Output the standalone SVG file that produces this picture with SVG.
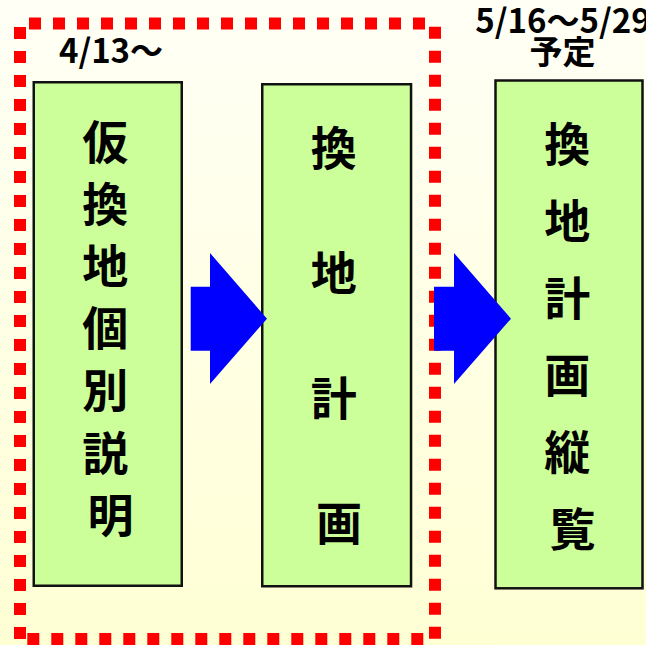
<svg xmlns="http://www.w3.org/2000/svg" width="646" height="645" viewBox="0 0 646 645">
  <style>
    .box { fill: #CCFF99; stroke: #111111; stroke-width: 2.5; }
    .kanji { font-family: "Noto Sans CJK JP", "Noto Sans CJK SC", sans-serif; font-weight: bold; font-size: 46px; fill: #000000; text-anchor: middle; }
    .label { font-family: "Noto Sans CJK JP", "Noto Sans CJK SC", sans-serif; font-weight: bold; font-size: 33px; fill: #000000; text-anchor: middle; }
    .dots { stroke: #FF0000; stroke-width: 12; stroke-dasharray: 12 12; fill: none; }
    .arrow { fill: #0000FF; stroke: none; }
  </style>
  <defs>
    <linearGradient id="bg" x1="0" y1="0" x2="0" y2="1">
      <stop offset="0" stop-color="#FFFFF6"/>
      <stop offset="1" stop-color="#FFFFD4"/>
    </linearGradient>
  </defs>
  <rect x="0" y="0" width="646" height="645" fill="url(#bg)"/>

  <g id="frame">
    <line class="dots" x1="29" y1="23.5" x2="425" y2="23.5"/>
    <line class="dots" x1="20" y1="27" x2="20" y2="639"/>
    <line class="dots" x1="435" y1="26.7" x2="435" y2="638.7"/>
    <line class="dots" x1="27.3" y1="639" x2="423.3" y2="639"/>
  </g>

  <g id="label-date1">
    <text class="label" x="111" y="63">4/13～</text>
  </g>
  <g id="label-date2">
    <text class="label" x="563" y="33">5/16～5/29</text>
    <text class="label" x="562.5" y="64">予定</text>
  </g>

  <g id="node-kari">
    <rect class="box" x="33.75" y="82.25" width="148" height="503.5"/>
    <text class="kanji">
      <tspan x="110.5" y="159">仮</tspan>
      <tspan x="110.5" y="221.1">換</tspan>
      <tspan x="110.5" y="283.2">地</tspan>
      <tspan x="110.5" y="345.3">個</tspan>
      <tspan x="110.5" y="407.4">別</tspan>
      <tspan x="110.5" y="469.5">説</tspan>
      <tspan x="110.5" y="531.5">明</tspan>
    </text>
  </g>

  <g id="node-kanchi">
    <rect class="box" x="262.25" y="84.25" width="148.8" height="502"/>
    <text class="kanji">
      <tspan x="339" y="165">換</tspan>
      <tspan x="339" y="290">地</tspan>
      <tspan x="339" y="415">計</tspan>
      <tspan x="339" y="540">画</tspan>
    </text>
  </g>

  <g id="node-juran">
    <rect class="box" x="495.5" y="80.5" width="147" height="507.8"/>
    <text class="kanji">
      <tspan x="572.5" y="160.5">換</tspan>
      <tspan x="572.5" y="237.5">地</tspan>
      <tspan x="572.5" y="314.5">計</tspan>
      <tspan x="572.5" y="391.5">画</tspan>
      <tspan x="572.5" y="468.5">縦</tspan>
      <tspan x="572.5" y="545.5">覧</tspan>
    </text>
  </g>

  <g id="connectors">
    <polygon class="arrow" points="190.7,286.7 210,286.7 210,253 267,318.7 210,384 210,350.7 190.7,350.7"/>
    <polygon class="arrow" points="434,286.7 454,286.7 454,253 511,318.7 454,384 454,350.7 434,350.7"/>
  </g>
</svg>
